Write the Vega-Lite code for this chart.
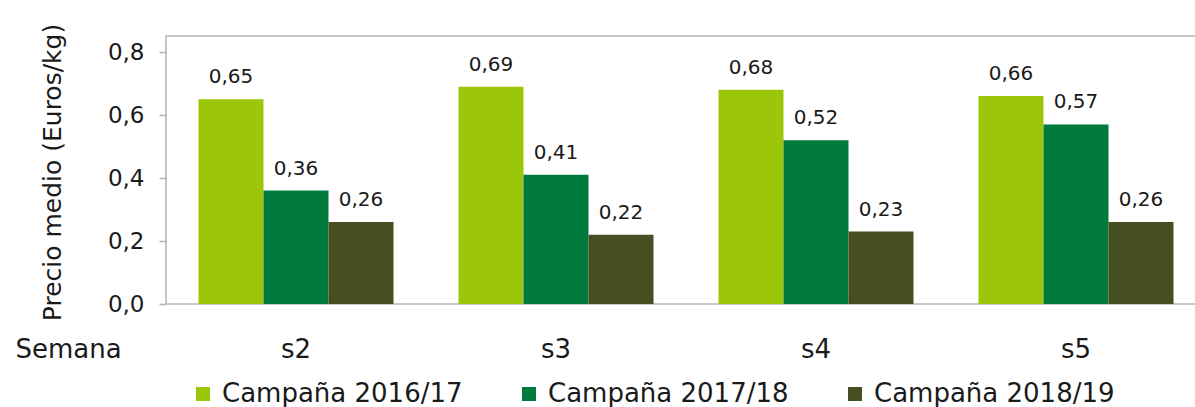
{
  "$schema": "https://vega.github.io/schema/vega-lite/v6.json",
  "width": 1030,
  "height": 268,
  "autosize": "none",
  "padding": {"left": 166, "top": 36, "right": 0, "bottom": 103},
  "background": "white",
  "config": {
    "locale": {"number": {"decimal": ",", "thousands": ".", "grouping": [3], "currency": ["", " €"]}},
    "font": "DejaVu Sans",
    "view": {"stroke": "#b4b4b4", "strokeWidth": 1.5}
  },
  "data": {
    "values": [
      {"semana": "s2", "campana": "Campaña 2016/17", "precio": 0.65},
      {"semana": "s2", "campana": "Campaña 2017/18", "precio": 0.36},
      {"semana": "s2", "campana": "Campaña 2018/19", "precio": 0.26},
      {"semana": "s3", "campana": "Campaña 2016/17", "precio": 0.69},
      {"semana": "s3", "campana": "Campaña 2017/18", "precio": 0.41},
      {"semana": "s3", "campana": "Campaña 2018/19", "precio": 0.22},
      {"semana": "s4", "campana": "Campaña 2016/17", "precio": 0.68},
      {"semana": "s4", "campana": "Campaña 2017/18", "precio": 0.52},
      {"semana": "s4", "campana": "Campaña 2018/19", "precio": 0.23},
      {"semana": "s5", "campana": "Campaña 2016/17", "precio": 0.66},
      {"semana": "s5", "campana": "Campaña 2017/18", "precio": 0.57},
      {"semana": "s5", "campana": "Campaña 2018/19", "precio": 0.26}
    ]
  },
  "encoding": {
    "x": {
      "field": "semana",
      "type": "nominal",
      "sort": ["s2", "s3", "s4", "s5"],
      "scale": {"paddingInner": 0.25, "paddingOuter": 0.10577, "align": 0.591},
      "axis": {
        "title": "Semana",
        "labelAngle": 0,
        "ticks": false,
        "tickSize": 0,
        "domain": false,
        "labelFontSize": 26,
        "labelColor": "#1a1a1a",
        "labelBaseline": "alphabetic",
        "labelPadding": 53,
        "titleFontSize": 26,
        "titleFontWeight": "normal",
        "titleColor": "#1a1a1a",
        "titleX": -151,
        "titleY": 53,
        "titleAlign": "left",
        "titleBaseline": "alphabetic"
      }
    },
    "xOffset": {
      "field": "campana",
      "type": "nominal",
      "sort": ["Campaña 2016/17", "Campaña 2017/18", "Campaña 2018/19"],
      "scale": {"paddingInner": 0, "paddingOuter": 0}
    },
    "y": {
      "field": "precio",
      "type": "quantitative",
      "scale": {"domain": [0, 0.8508], "nice": false},
      "axis": {
        "title": "Precio medio (Euros/kg)",
        "values": [0, 0.2, 0.4, 0.6, 0.8],
        "format": ".1f",
        "grid": false,
        "domain": false,
        "tickColor": "#b4b4b4",
        "tickSize": 7,
        "tickWidth": 1.5,
        "labelFontSize": 23,
        "labelColor": "#1a1a1a",
        "labelPadding": 15,
        "titleFontSize": 25,
        "titleFontWeight": "normal",
        "titleColor": "#1a1a1a",
        "titleX": -114,
        "titleY": 136,
        "titleAngle": 270,
        "titleAlign": "center",
        "titleBaseline": "middle"
      }
    }
  },
  "layer": [
    {
      "mark": {"type": "bar"},
      "encoding": {
        "color": {
          "field": "campana",
          "type": "nominal",
          "scale": {
            "domain": ["Campaña 2016/17", "Campaña 2017/18", "Campaña 2018/19"],
            "range": ["#9BC60A", "#007B3D", "#474F22"]
          },
          "legend": {
            "title": null,
            "orient": "none",
            "legendX": 24,
            "legendY": 345,
            "direction": "horizontal",
            "symbolType": "square",
            "symbolSize": 196,
            "symbolStrokeWidth": 0,
            "labelFontSize": 26,
            "labelColor": "#1a1a1a",
            "labelOffset": 6,
            "columnPadding": 53,
            "gridAlign": "all",
            "padding": 0,
            "labelLimit": 400
          }
        }
      }
    },
    {
      "mark": {"type": "text", "baseline": "alphabetic", "dy": -16, "fontSize": 20, "color": "#1a1a1a"},
      "encoding": {
        "text": {"field": "precio", "type": "quantitative", "format": ".2f"}
      }
    }
  ]
}
